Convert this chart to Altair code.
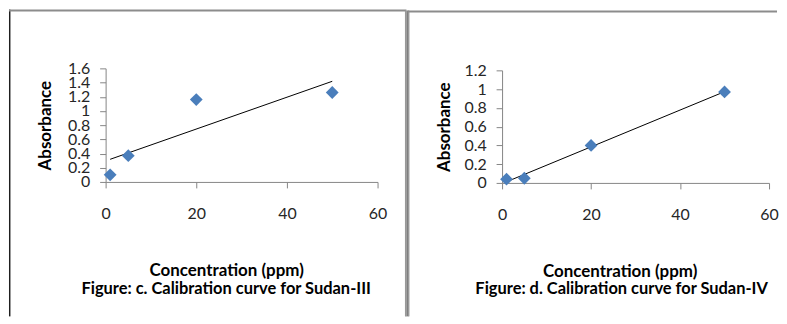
import altair as alt
import pandas as pd

# ---- data ----
conc = [1, 5, 20, 50]
abs_sudan3 = [0.10, 0.37, 1.16, 1.26]
abs_sudan4 = [0.04, 0.05, 0.40, 0.97]
x_ticks = [0, 20, 40, 60]
y_ticks_3 = [0, 0.2, 0.4, 0.6, 0.8, 1.0, 1.2, 1.4, 1.6]
y_ticks_4 = [0, 0.2, 0.4, 0.6, 0.8, 1.0, 1.2]
x_title = "Concentration (ppm)"
y_title = "Absorbance"
caption_3 = "Figure: c. Calibration curve for Sudan-III"
caption_4 = "Figure: d. Calibration curve for Sudan-IV"

FONT = "Lato"
AXIS_GRAY = "#868686"
MARKER = "#4A7EBB"


def frame_rule(x1, x2, y1, y2, color, w):
    return alt.Chart(alt.Data(values=[{"k": 0}])).mark_rule(
        color=color, strokeWidth=w
    ).encode(
        x=alt.value(x1), x2=alt.value(x2), y=alt.value(y1), y2=alt.value(y2)
    )


def caption_text(text, cx, cy):
    return alt.Chart(alt.Data(values=[{"k": 0}])).mark_text(
        font=FONT, fontSize=16.5, fontWeight="bold", color="#000000",
        align="center", baseline="alphabetic"
    ).encode(x=alt.value(cx), y=alt.value(cy), text=alt.value(text))


def panel(ys, yticks, ymax, caption, width, height, y_range,
          xtitle_x, ytitle_x, ytitle_y, cap_x, frames):
    df = pd.DataFrame({"c": conc, "a": ys})
    xenc = alt.X(
        "c:Q",
        scale=alt.Scale(domain=[0, 60], nice=False, zero=True),
        axis=alt.Axis(
            values=x_ticks, grid=False, domainColor=AXIS_GRAY, tickColor=AXIS_GRAY,
            tickSize=6, labelPadding=18, labelFont=FONT, labelFontSize=16,
            labelColor="#262626", labelFlush=False, labelOverlap=False,
            title=x_title, titleFont=FONT, titleFontSize=17,
            titleFontWeight="bold", titleColor="#000000", titleX=xtitle_x,
            titleY=94, titleAlign="center", titleBaseline="alphabetic",
        ),
    )
    if y_range is not None:
        yscale = alt.Scale(domain=[0, ymax], nice=False, zero=True, range=y_range)
    else:
        yscale = alt.Scale(domain=[0, ymax], nice=False, zero=True)
    yenc = alt.Y(
        "a:Q",
        scale=yscale,
        axis=alt.Axis(
            values=yticks, format="~g", grid=False, domainColor=AXIS_GRAY,
            tickColor=AXIS_GRAY, tickSize=6, labelPadding=10, labelFont=FONT,
            labelFontSize=16, labelColor="#262626", labelFlush=False,
            labelOverlap=False, labelBaseline="middle",
            title=y_title, titleFont=FONT, titleFontSize=17, titleFontWeight="bold",
            titleColor="#000000", titleAngle=270, titleX=ytitle_x, titleY=ytitle_y,
            titleAlign="center", titleBaseline="middle",
        ),
    )
    base = alt.Chart(df)
    trend = base.transform_regression("c", "a", extent=[1, 50]).mark_line(
        color="#000000", strokeWidth=1
    ).encode(x=xenc, y=yenc)
    pts = base.mark_point(
        shape="diamond", filled=True, size=165, color=MARKER, opacity=1
    ).encode(x=xenc, y=yenc)
    layers = [trend, pts, caption_text(caption, cap_x, 227)]
    layers += [frame_rule(*f) for f in frames]
    return alt.layer(*layers).properties(width=width, height=height)


# frame lines relative to each panel's plot origin (decoration only)
BOTTOM = 249
frames_left = [
    (-96.5, -96.5, -59, BOTTOM, "#1a1a1a", 1),
    (-95.5, -95.5, -59, BOTTOM, "#9a9a9a", 1),
    (-97, 302, -58, -58, "#8c8c8c", 2),
    (301.5, 301.5, -58, BOTTOM, "#999999", 2),
]
frames_right = [
    (-94.5, -94.5, -58, BOTTOM, "#1a1a1a", 1),
    (-93.5, -93.5, -58, BOTTOM, "#9a9a9a", 1),
    (-95, 276, -57, -57, "#8c8c8c", 2),
]

p1 = panel(abs_sudan3, y_ticks_3, 1.6, caption_3, 273, 114, None,
           121, -60, 57, 121, frames_left)
p2 = panel(abs_sudan4, y_ticks_4, 1.2, caption_4, 268, 115, [115, 2],
           118, -58, 58.5, 120, frames_right)

chart = alt.hconcat(p1, p2, spacing=125, bounds="flush").properties(
    padding=0, background="white"
).configure_view(stroke=None)

chart.save("out.html", embed_options={"renderer": "svg", "actions": False})
